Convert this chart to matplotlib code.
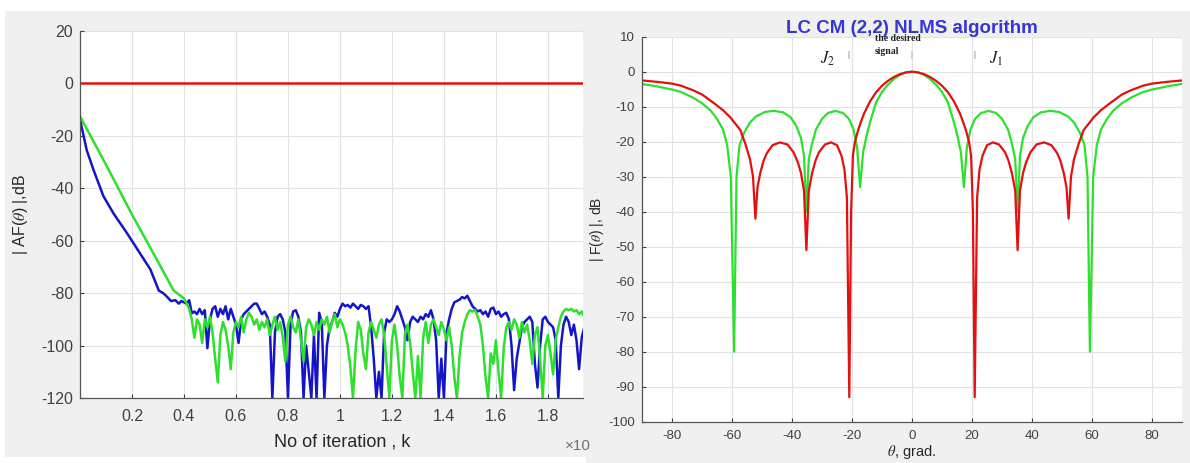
import numpy as np
import matplotlib.pyplot as plt
from matplotlib.patches import Rectangle

plt.rcParams['font.family'] = ['Liberation Sans', 'DejaVu Sans']
plt.rcParams['mathtext.fontset'] = 'stix'
plt.rcParams['axes.unicode_minus'] = False

W, H = 1190, 463

# ── left panel: learning curves (k in units of 1e4 iterations) ──────────────
red_level = 0.0

blue_k_start = [0.0, 0.005, 0.026, 0.052, 0.09, 0.129, 0.18, 0.232, 0.271, 0.303,
                0.32, 0.335, 0.35, 0.367, 0.38, 0.39, 0.41, 0.42, 0.43]
blue_db_start = [-13, -16, -25.5, -33, -43, -49.6, -57, -65, -71, -79,
                 -80, -81.4, -83, -82.7, -84, -83, -84, -82.7, -87.7]

green_k_start = [0.0, 0.1, 0.2, 0.3, 0.36, 0.4, 0.42, 0.43]
green_db_start = [-12.5, -31, -50, -68, -79, -82, -86, -90]

k_tail = np.arange(44, 195) / 100   # 0.44 ... 1.94

blue_tail = [
    -87, -88, -86, -88, -86.5, -101, -90, -86, -85, -89,
    -86, -88, -85, -90, -86, -89, -92, -99, -90, -88,
    -87, -86, -85, -84, -84, -86, -88, -87, -89, -92,
    -120, -95, -89, -88, -90, -95, -120, -92, -87, -86.5,
    -89, -95, -120, -100, -110, -120, -96, -120, -87.5, -91,
    -120, -100, -93, -91, -87.5, -89, -86, -84, -85, -84.5,
    -85.5, -84, -85, -86, -84.5, -85, -86, -85, -93, -105,
    -120, -110, -120, -95, -90, -91, -90, -88, -85, -87,
    -90, -93, -98, -91, -89, -90, -91, -89, -90, -88,
    -89, -86.5, -90, -98, -120, -105, -120, -95, -90, -86,
    -83.5, -83, -82.5, -81.5, -82, -81, -83, -85, -86, -87,
    -86.5, -88, -87, -89, -86, -85.5, -88, -87, -89, -88,
    -87.5, -90, -100, -117, -105, -99, -93, -91, -90, -89,
    -91, -107, -116, -100, -90, -89, -91, -92, -93, -98,
    -120, -100, -92, -89, -91, -96, -92, -98, -109, -97,
    -93]

green_tail = [
    -97, -90, -92, -99, -90, -93, -89, -95, -105, -114,
    -96, -91, -94, -100, -109, -95, -91, -93, -89, -95,
    -90, -87.5, -89, -92, -90, -94, -91, -93, -90, -96,
    -92, -89, -94, -91, -97, -106, -92, -89, -93, -95,
    -90, -98, -106, -93, -90, -92, -96, -91, -94, -90,
    -92, -89, -95, -91, -88, -93, -90, -92, -95, -100,
    -108, -120, -102, -91, -94, -103, -109, -95, -91, -94,
    -97, -92, -90, -96, -108, -120, -98, -92, -100, -112,
    -120, -96, -92, -99, -110, -120, -104, -120, -97, -91,
    -99, -92, -90, -93, -96, -91, -94, -98, -93, -100,
    -112, -120, -104, -95, -91, -88, -86.5, -87, -86.5, -89,
    -92, -100, -112, -120, -103, -107, -98, -110, -120, -101,
    -93, -91, -94, -90, -92, -97, -91, -95, -92, -98,
    -107, -96, -93, -105, -120, -100, -96, -103, -111, -98,
    -93, -89, -87, -86, -86.5, -86, -87, -86.5, -88, -87,
    -89]

k_ticks = [0.2, 0.4, 0.6, 0.8, 1.0, 1.2, 1.4, 1.6, 1.8]
k_ticklabels = ['0.2', '0.4', '0.6', '0.8', '1', '1.2', '1.4', '1.6', '1.8']

# ── right panel: beam patterns ───────────────────────────────────────────────
theta_red = [-90, -85, -80, -77, -73, -70, -66, -63, -60.6, -57.2,
             -55.6, -54, -53, -52.2, -51.5, -50.6, -49.5, -48.4, -46.5, -44,
             -41.5, -39.5, -38, -37, -36, -35.2, -34.4, -33.3, -32.2, -31,
             -29, -27, -25, -23.5, -22.5, -21.7, -20.9, -20.3, -19.7, -19,
             -18, -17, -16, -14, -12, -10, -8, -6, -4, -2, 0,
             2, 4, 6, 8, 10, 12, 14, 16, 17, 18,
             19, 19.7, 20.3, 20.9, 21.7, 22.5, 23.5, 25, 27, 29,
             31, 32.2, 33.3, 34.4, 35.2, 36, 37, 38, 39.5, 41.5,
             44, 46.5, 48.4, 49.5, 50.6, 51.5, 52.2, 53, 54, 55.6,
             57.2, 60.6, 63, 66, 70, 73, 77, 80, 85, 90]
red_db = [-2.5, -2.9, -3.4, -4, -5.3, -6.5, -9, -11, -13, -16.7,
          -20.5, -25, -30, -42, -33, -29, -25.5, -23.3, -21, -20.2,
          -20.8, -23, -26, -29, -34, -51, -34, -29, -25.5, -23,
          -20.8, -20.2, -21, -24, -28, -36, -93, -40, -24, -20,
          -16.8, -14.3, -12, -8.5, -5.9, -4, -2.6, -1.5, -0.7, -0.2, 0,
          -0.2, -0.7, -1.5, -2.6, -4, -5.9, -8.5, -12, -14.3, -16.8,
          -20, -24, -40, -93, -36, -28, -24, -21, -20.2, -20.8,
          -23, -25.5, -29, -34, -51, -34, -29, -26, -23, -20.8,
          -20.2, -21, -23.3, -25.5, -29, -33, -42, -30, -25, -20.5,
          -16.7, -13, -11, -9, -6.5, -5.3, -4, -3.4, -2.9, -2.5]

theta_green = [-90, -85, -80, -77, -73, -70, -67, -65, -63, -61.6,
               -60.4, -59.3, -58.5, -57.5, -56, -54, -52, -49, -46, -43,
               -40.5, -38.5, -37, -36, -35.2, -34.4, -33.3, -32, -30, -28,
               -25.5, -23, -21, -19.5, -18.3, -17.3, -16.3, -15.2, -14, -12,
               -10, -8, -6, -4, -2, 0,
               2, 4, 6, 8, 10,
               12, 14, 15.2, 16.3, 17.3, 18.3, 19.5, 21, 23, 25.5,
               28, 30, 32, 33.3, 34.4, 35.2, 36, 37, 38.5, 40.5,
               43, 46, 49, 52, 54, 56, 57.5, 58.5, 59.3, 60.4,
               61.6, 63, 65, 67, 70, 73, 77, 80, 85, 90]
green_db = [-3.5, -4.2, -5.1, -5.8, -7.4, -9, -11.2, -13.5, -16.5, -21,
            -30, -80, -30, -21, -17.5, -14.5, -12.8, -11.5, -11.2, -11.6,
            -13, -15.6, -19, -24, -40, -25, -20.5, -16.5, -13.5, -11.8,
            -11.2, -11.8, -13.5, -16.5, -21.5, -33, -23, -18.5, -14.5, -8.8,
            -5.8, -3.7, -2.1, -0.9, -0.2, 0,
            -0.2, -0.9, -2.1, -3.7, -5.8,
            -8.8, -14.5, -18.5, -23, -33, -21.5, -16.5, -13.5, -11.8, -11.2,
            -11.8, -13.5, -16.5, -20.5, -25, -40, -24, -19, -15.6, -13,
            -11.6, -11.2, -11.5, -12.8, -14.5, -17.5, -21, -30, -80, -30,
            -21, -16.5, -13.5, -11.2, -9, -7.4, -5.8, -5.1, -4.2, -3.5]

marker_theta = [-21, 0, 21]
theta_ticks = [-80, -60, -40, -20, 0, 20, 40, 60, 80]
db_ticks = [-100, -90, -80, -70, -60, -50, -40, -30, -20, -10, 0, 10]

C_RED = '#e41010'
C_BLUE = '#1515c8'
C_GREEN = '#2ee02e'
C_PANEL = '#f0f0f0'
C_TEXT = '#404040'
C_GRID = '#e2e2e2'


def box(x0, y0, x1, y1):
    """pixel box (top-left origin) -> figure fraction rect"""
    return [x0 / W, 1 - y1 / H, (x1 - x0) / W, (y1 - y0) / H]


def style_axes(ax, fs):
    for s in ('top', 'right'):
        ax.spines[s].set_visible(False)
    for s in ('left', 'bottom'):
        ax.spines[s].set_color('#555555')
        ax.spines[s].set_linewidth(0.9)
    ax.tick_params(direction='in', length=3, width=0.8, colors=C_TEXT,
                   labelsize=fs, pad=5)
    ax.grid(True, color=C_GRID, linewidth=0.8)
    ax.set_axisbelow(True)


fig = plt.figure(figsize=(W / 100, H / 100), dpi=100)
fig.patch.set_facecolor('white')
fig.add_artist(Rectangle((5 / W, 1 - 457 / H), 581 / W, 446 / H,
                         transform=fig.transFigure, facecolor=C_PANEL,
                         edgecolor='none', zorder=0))
fig.add_artist(Rectangle((586 / W, 0), 604 / W, 1 - 11 / H,
                         transform=fig.transFigure, facecolor=C_PANEL,
                         edgecolor='none', zorder=0))

# ── left ──
axL = fig.add_axes(box(80, 31, 583, 398))
style_axes(axL, 11.5)
axL.axhline(red_level, color=C_RED, linewidth=1.8)
axL.plot(np.concatenate([blue_k_start, k_tail]),
         np.concatenate([blue_db_start, blue_tail]),
         color=C_BLUE, linewidth=1.8)
axL.plot(np.concatenate([green_k_start, k_tail]),
         np.concatenate([green_db_start, green_tail]),
         color=C_GREEN, linewidth=1.8)
axL.set_xlim(0, 1.935)
axL.set_ylim(-120, 20)
axL.set_xticks(k_ticks)
axL.set_xticklabels(k_ticklabels)
axL.set_yticks(np.arange(-120, 21, 20))
axL.tick_params(axis='x', pad=8)
axL.set_xlabel('No of iteration , k', fontsize=13, color='#262626')
axL.xaxis.set_label_coords(0.521, -0.098)
axL.set_ylabel(r'| AF($\theta$) |,dB', fontsize=11.5, color='#262626')
axL.yaxis.set_label_coords(-0.1, 0.5)
fig.text(565 / W, 1 - 446 / H, '×10', fontsize=11, color='#707070',
         va='center', ha='left')

# ── right ──
axR = fig.add_axes(box(642, 36.7, 1182, 421.7))
style_axes(axR, 9.5)
axR.plot(theta_green, green_db, color=C_GREEN, linewidth=1.6)
axR.plot(theta_red, red_db, color=C_RED, linewidth=1.6)
axR.set_xlim(-90, 90)
axR.set_ylim(-100, 10)
axR.set_xticks(theta_ticks)
axR.set_yticks(db_ticks)
axR.tick_params(axis='x', pad=6)
axR.set_xlabel(r'$\theta$, grad.', fontsize=10.5, color='#262626')
axR.xaxis.set_label_coords(0.5, -0.055)
axR.set_ylabel(r'| F($\theta$) |, dB', fontsize=10, color='#262626')
axR.yaxis.set_label_coords(-0.066, 0.5)
axR.set_title('LC CM (2,2) NLMS algorithm', fontsize=13.5, fontweight='bold',
              color='#3535d5', pad=2)
axR.vlines(marker_theta, 3.5, 6.0, color='#cfcfcf', linewidth=1.4)
axR.text(-12.3, 7.6, 'the desired\nsignal', family='Liberation Serif',
         fontweight='bold', fontsize=7, color='#222222', va='center',
         ha='left', linespacing=1.5)
axR.text(-28.3, 3.6, r'$J_2$', fontsize=12, color='#222222',
         va='center', ha='center')
axR.text(28.1, 3.6, r'$J_1$', fontsize=12, color='#222222',
         va='center', ha='center')

fig.savefig('out.png', dpi=100, facecolor=fig.get_facecolor())
